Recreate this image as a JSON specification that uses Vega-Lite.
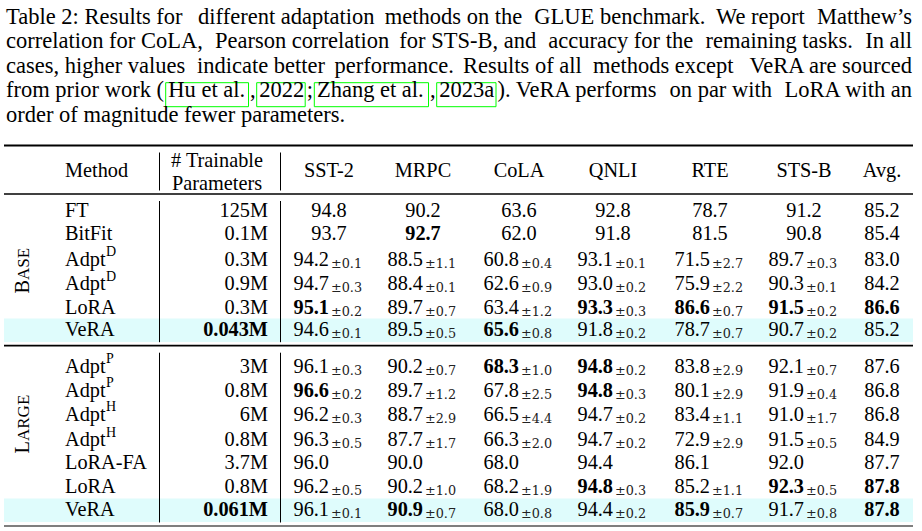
{
  "$schema": "https://vega.github.io/schema/vega-lite/v6.json",
  "width": 922,
  "height": 531,
  "padding": 0,
  "autosize": {"type": "none"},
  "background": "#ffffff",
  "config": {"view": {"stroke": null}, "text": {"font": "Liberation Serif", "color": "#000000"}},
  "datasets": {
    "caption": [
      {"line": 1, "seg": 0, "part": "start", "text": "Table 2: Results for"},
      {"line": 1, "seg": 3, "part": "start", "text": "different adaptation"},
      {"line": 1, "seg": 10, "part": "start", "text": "methods on the"},
      {"line": 1, "seg": 16, "part": "start", "text": "GLUE benchmark."},
      {"line": 1, "seg": 21, "part": "start", "text": "We report"},
      {"line": 1, "seg": 22, "part": "end", "text": "Matthew’s"},
      {"line": 2, "seg": 0, "part": "start", "text": "correlation for CoLA,"},
      {"line": 2, "seg": 4, "part": "start", "text": "Pearson correlation"},
      {"line": 2, "seg": 11, "part": "start", "text": "for STS-B, and"},
      {"line": 2, "seg": 17, "part": "start", "text": "accuracy for the"},
      {"line": 2, "seg": 20, "part": "start", "text": "remaining tasks."},
      {"line": 2, "seg": 22, "part": "end", "text": "In all"},
      {"line": 3, "seg": 0, "part": "start", "text": "cases, higher values"},
      {"line": 3, "seg": 2, "part": "start", "text": "indicate better"},
      {"line": 3, "seg": 9, "part": "start", "text": "performance."},
      {"line": 3, "seg": 14, "part": "start", "text": "Results of all"},
      {"line": 3, "seg": 18, "part": "start", "text": "methods except"},
      {"line": 3, "seg": 22, "part": "end", "text": "VeRA are sourced"},
      {"line": 4, "seg": 0, "part": "start", "text": "from prior work ("},
      {"line": 4, "seg": 1, "next": 5, "part": "start", "text": "Hu et al.", "cite": true},
      {"line": 4, "seg": 5, "part": "start", "text": ","},
      {"line": 4, "seg": 6, "next": 7, "part": "start", "text": "2022", "cite": true},
      {"line": 4, "seg": 7, "part": "start", "text": ";"},
      {"line": 4, "seg": 8, "next": 12, "part": "start", "text": "Zhang et al.", "cite": true},
      {"line": 4, "seg": 12, "part": "start", "text": ","},
      {"line": 4, "seg": 13, "next": 15, "part": "start", "text": "2023a", "cite": true},
      {"line": 4, "seg": 15, "part": "start", "text": "). VeRA performs"},
      {"line": 4, "seg": 19, "part": "start", "text": "on par with"},
      {"line": 4, "seg": 22, "part": "end", "text": "LoRA with an"},
      {"line": 5, "seg": 0, "part": "start", "text": "order of magnitude fewer parameters."}
    ],
    "groups": [
      {"group": "BASE", "first": "B", "rest": "ASE"},
      {"group": "LARGE", "first": "L", "rest": "ARGE"}
    ],
    "hrules": [
      {"kind": "toprule", "r": -0.5},
      {"kind": "midrule", "r": 0.5},
      {"kind": "midrule", "r": 6.5},
      {"kind": "bottomrule", "r": 13.5}
    ],
    "vrules": [
      {"c": 0.5, "r": -0.5, "r2": 0.5},
      {"c": 0.5, "r": 0.5, "r2": 6.5},
      {"c": 0.5, "r": 6.5, "r2": 13.5},
      {"c": 1.5, "r": -0.5, "r2": 0.5},
      {"c": 1.5, "r": 0.5, "r2": 6.5},
      {"c": 1.5, "r": 6.5, "r2": 13.5}
    ],
    "header": [
      {"c": 0, "h": "Method"},
      {"c": 1, "h": "# Trainable\nParameters"},
      {"c": 2, "h": "SST-2"},
      {"c": 3, "h": "MRPC"},
      {"c": 4, "h": "CoLA"},
      {"c": 5, "h": "QNLI"},
      {"c": 6, "h": "RTE"},
      {"c": 7, "h": "STS-B"},
      {"c": 8, "h": "Avg."}
    ],
    "methods": [
      {"r": 1, "group": "BASE", "method": "FT", "sup": "", "params": "125M"},
      {"r": 2, "group": "BASE", "method": "BitFit", "sup": "", "params": "0.1M"},
      {"r": 3, "group": "BASE", "method": "Adpt", "sup": "D", "params": "0.3M"},
      {"r": 4, "group": "BASE", "method": "Adpt", "sup": "D", "params": "0.9M"},
      {"r": 5, "group": "BASE", "method": "LoRA", "sup": "", "params": "0.3M"},
      {"r": 6, "group": "BASE", "method": "VeRA", "sup": "", "params": "0.043M", "pbest": true},
      {"r": 7, "group": "LARGE", "method": "Adpt", "sup": "P", "params": "3M"},
      {"r": 8, "group": "LARGE", "method": "Adpt", "sup": "P", "params": "0.8M"},
      {"r": 9, "group": "LARGE", "method": "Adpt", "sup": "H", "params": "6M"},
      {"r": 10, "group": "LARGE", "method": "Adpt", "sup": "H", "params": "0.8M"},
      {"r": 11, "group": "LARGE", "method": "LoRA-FA", "sup": "", "params": "3.7M"},
      {"r": 12, "group": "LARGE", "method": "LoRA", "sup": "", "params": "0.8M"},
      {"r": 13, "group": "LARGE", "method": "VeRA", "sup": "", "params": "0.061M", "pbest": true}
    ],
    "scores": [
      {"r": 1, "c": 2, "v": "94.8", "sd": ""},
      {"r": 1, "c": 3, "v": "90.2", "sd": ""},
      {"r": 1, "c": 4, "v": "63.6", "sd": ""},
      {"r": 1, "c": 5, "v": "92.8", "sd": ""},
      {"r": 1, "c": 6, "v": "78.7", "sd": ""},
      {"r": 1, "c": 7, "v": "91.2", "sd": ""},
      {"r": 1, "c": 8, "v": "85.2", "sd": ""},
      {"r": 2, "c": 2, "v": "93.7", "sd": ""},
      {"r": 2, "c": 3, "v": "92.7", "sd": "", "best": true},
      {"r": 2, "c": 4, "v": "62.0", "sd": ""},
      {"r": 2, "c": 5, "v": "91.8", "sd": ""},
      {"r": 2, "c": 6, "v": "81.5", "sd": ""},
      {"r": 2, "c": 7, "v": "90.8", "sd": ""},
      {"r": 2, "c": 8, "v": "85.4", "sd": ""},
      {"r": 3, "c": 2, "v": "94.2", "sd": "±0.1"},
      {"r": 3, "c": 3, "v": "88.5", "sd": "±1.1"},
      {"r": 3, "c": 4, "v": "60.8", "sd": "±0.4"},
      {"r": 3, "c": 5, "v": "93.1", "sd": "±0.1"},
      {"r": 3, "c": 6, "v": "71.5", "sd": "±2.7"},
      {"r": 3, "c": 7, "v": "89.7", "sd": "±0.3"},
      {"r": 3, "c": 8, "v": "83.0", "sd": ""},
      {"r": 4, "c": 2, "v": "94.7", "sd": "±0.3"},
      {"r": 4, "c": 3, "v": "88.4", "sd": "±0.1"},
      {"r": 4, "c": 4, "v": "62.6", "sd": "±0.9"},
      {"r": 4, "c": 5, "v": "93.0", "sd": "±0.2"},
      {"r": 4, "c": 6, "v": "75.9", "sd": "±2.2"},
      {"r": 4, "c": 7, "v": "90.3", "sd": "±0.1"},
      {"r": 4, "c": 8, "v": "84.2", "sd": ""},
      {"r": 5, "c": 2, "v": "95.1", "sd": "±0.2", "best": true},
      {"r": 5, "c": 3, "v": "89.7", "sd": "±0.7"},
      {"r": 5, "c": 4, "v": "63.4", "sd": "±1.2"},
      {"r": 5, "c": 5, "v": "93.3", "sd": "±0.3", "best": true},
      {"r": 5, "c": 6, "v": "86.6", "sd": "±0.7", "best": true},
      {"r": 5, "c": 7, "v": "91.5", "sd": "±0.2", "best": true},
      {"r": 5, "c": 8, "v": "86.6", "sd": "", "best": true},
      {"r": 6, "c": 2, "v": "94.6", "sd": "±0.1"},
      {"r": 6, "c": 3, "v": "89.5", "sd": "±0.5"},
      {"r": 6, "c": 4, "v": "65.6", "sd": "±0.8", "best": true},
      {"r": 6, "c": 5, "v": "91.8", "sd": "±0.2"},
      {"r": 6, "c": 6, "v": "78.7", "sd": "±0.7"},
      {"r": 6, "c": 7, "v": "90.7", "sd": "±0.2"},
      {"r": 6, "c": 8, "v": "85.2", "sd": ""},
      {"r": 7, "c": 2, "v": "96.1", "sd": "±0.3"},
      {"r": 7, "c": 3, "v": "90.2", "sd": "±0.7"},
      {"r": 7, "c": 4, "v": "68.3", "sd": "±1.0", "best": true},
      {"r": 7, "c": 5, "v": "94.8", "sd": "±0.2", "best": true},
      {"r": 7, "c": 6, "v": "83.8", "sd": "±2.9"},
      {"r": 7, "c": 7, "v": "92.1", "sd": "±0.7"},
      {"r": 7, "c": 8, "v": "87.6", "sd": ""},
      {"r": 8, "c": 2, "v": "96.6", "sd": "±0.2", "best": true},
      {"r": 8, "c": 3, "v": "89.7", "sd": "±1.2"},
      {"r": 8, "c": 4, "v": "67.8", "sd": "±2.5"},
      {"r": 8, "c": 5, "v": "94.8", "sd": "±0.3", "best": true},
      {"r": 8, "c": 6, "v": "80.1", "sd": "±2.9"},
      {"r": 8, "c": 7, "v": "91.9", "sd": "±0.4"},
      {"r": 8, "c": 8, "v": "86.8", "sd": ""},
      {"r": 9, "c": 2, "v": "96.2", "sd": "±0.3"},
      {"r": 9, "c": 3, "v": "88.7", "sd": "±2.9"},
      {"r": 9, "c": 4, "v": "66.5", "sd": "±4.4"},
      {"r": 9, "c": 5, "v": "94.7", "sd": "±0.2"},
      {"r": 9, "c": 6, "v": "83.4", "sd": "±1.1"},
      {"r": 9, "c": 7, "v": "91.0", "sd": "±1.7"},
      {"r": 9, "c": 8, "v": "86.8", "sd": ""},
      {"r": 10, "c": 2, "v": "96.3", "sd": "±0.5"},
      {"r": 10, "c": 3, "v": "87.7", "sd": "±1.7"},
      {"r": 10, "c": 4, "v": "66.3", "sd": "±2.0"},
      {"r": 10, "c": 5, "v": "94.7", "sd": "±0.2"},
      {"r": 10, "c": 6, "v": "72.9", "sd": "±2.9"},
      {"r": 10, "c": 7, "v": "91.5", "sd": "±0.5"},
      {"r": 10, "c": 8, "v": "84.9", "sd": ""},
      {"r": 11, "c": 2, "v": "96.0", "sd": ""},
      {"r": 11, "c": 3, "v": "90.0", "sd": ""},
      {"r": 11, "c": 4, "v": "68.0", "sd": ""},
      {"r": 11, "c": 5, "v": "94.4", "sd": ""},
      {"r": 11, "c": 6, "v": "86.1", "sd": ""},
      {"r": 11, "c": 7, "v": "92.0", "sd": ""},
      {"r": 11, "c": 8, "v": "87.7", "sd": ""},
      {"r": 12, "c": 2, "v": "96.2", "sd": "±0.5"},
      {"r": 12, "c": 3, "v": "90.2", "sd": "±1.0"},
      {"r": 12, "c": 4, "v": "68.2", "sd": "±1.9"},
      {"r": 12, "c": 5, "v": "94.8", "sd": "±0.3", "best": true},
      {"r": 12, "c": 6, "v": "85.2", "sd": "±1.1"},
      {"r": 12, "c": 7, "v": "92.3", "sd": "±0.5", "best": true},
      {"r": 12, "c": 8, "v": "87.8", "sd": "", "best": true},
      {"r": 13, "c": 2, "v": "96.1", "sd": "±0.1"},
      {"r": 13, "c": 3, "v": "90.9", "sd": "±0.7", "best": true},
      {"r": 13, "c": 4, "v": "68.0", "sd": "±0.8"},
      {"r": 13, "c": 5, "v": "94.4", "sd": "±0.2"},
      {"r": 13, "c": 6, "v": "85.9", "sd": "±0.7", "best": true},
      {"r": 13, "c": 7, "v": "91.7", "sd": "±0.8"},
      {"r": 13, "c": 8, "v": "87.8", "sd": "", "best": true}
    ]
  },
  "resolve": {"scale": {"x": "independent", "y": "independent"}},
  "layer": [
    {
      "data": {"name": "caption"},
      "layer": [
        {
          "transform": [{"filter": "datum.cite"}],
          "mark": {"type": "rect", "filled": false, "color": "#00ff00", "strokeWidth": 1, "xOffset": -2.6, "x2Offset": -1.5, "yOffset": -14.3, "y2Offset": 9.7},
          "encoding": {
            "x": {"field": "seg", "type": "quantitative", "axis": null, "scale": {"domain": [0, 1, 2, 3, 4, 5, 6, 7, 8, 9, 10, 11, 12, 13, 14, 15, 16, 17, 18, 19, 20, 21, 22], "range": [6, 168.3, 196.9, 198.1, 215, 250, 259.3, 306.7, 316.9, 334.5, 384.8, 399.3, 430, 439.3, 463, 497.5, 534.3, 548.3, 593, 669.5, 705.5, 716, 912], "zero": false, "nice": false}},
            "x2": {"field": "next"},
            "y": {"field": "line", "type": "quantitative", "axis": null, "scale": {"domain": [1, 5], "range": [23.5, 121.5], "zero": false, "nice": false}},
            "y2": {"field": "line"}
          }
        },
        {
          "mark": {"type": "text", "baseline": "alphabetic", "fontSize": 22.5, "align": {"expr": "datum.part == 'end' ? 'right' : 'left'"}},
          "encoding": {
            "x": {"field": "seg", "type": "quantitative", "axis": null, "scale": {"domain": [0, 1, 2, 3, 4, 5, 6, 7, 8, 9, 10, 11, 12, 13, 14, 15, 16, 17, 18, 19, 20, 21, 22], "range": [6, 168.3, 196.9, 198.1, 215, 250, 259.3, 306.7, 316.9, 334.5, 384.8, 399.3, 430, 439.3, 463, 497.5, 534.3, 548.3, 593, 669.5, 705.5, 716, 912], "zero": false, "nice": false}},
            "y": {"field": "line", "type": "quantitative", "axis": null, "scale": {"domain": [1, 5], "range": [23.5, 121.5], "zero": false, "nice": false}},
            "text": {"field": "text"}
          }
        }
      ]
    },
    {
      "data": {"name": "groups"},
      "layer": [
        {
          "mark": {"type": "text", "angle": 270, "align": "right", "baseline": "alphabetic", "fontSize": 20.3},
          "encoding": {
            "x": {"datum": -1, "type": "quantitative", "axis": null, "scale": {"domain": [-1.5, -1, 0, 0.5, 1, 1.5, 2, 3, 4, 5, 6, 7, 8, 8.5], "range": [4, 29.3, 65, 159.5, 268, 280.5, 329, 423, 519, 613, 710, 804, 882, 913], "zero": false, "nice": false}},
            "y": {"field": "group", "type": "nominal", "axis": null, "scale": {"type": "point", "domain": ["BASE", "LARGE"], "range": [280, 441], "padding": 0}},
            "text": {"field": "first"}
          }
        },
        {
          "mark": {"type": "text", "angle": 270, "align": "left", "baseline": "alphabetic", "fontSize": 17},
          "encoding": {
            "x": {"datum": -1, "type": "quantitative", "axis": null, "scale": {"domain": [-1.5, -1, 0, 0.5, 1, 1.5, 2, 3, 4, 5, 6, 7, 8, 8.5], "range": [4, 29.3, 65, 159.5, 268, 280.5, 329, 423, 519, 613, 710, 804, 882, 913], "zero": false, "nice": false}},
            "y": {"field": "group", "type": "nominal", "axis": null, "scale": {"type": "point", "domain": ["BASE", "LARGE"], "range": [280, 441], "padding": 0}},
            "text": {"field": "rest"}
          }
        }
      ]
    },
    {
      "layer": [
        {
          "data": {"name": "methods"},
          "transform": [{"filter": "datum.method == 'VeRA'"}],
          "mark": {"type": "rect", "color": "#dffcfc", "yOffset": -17.5, "y2Offset": 6},
          "encoding": {
            "x": {"datum": -1.5, "type": "quantitative", "axis": null, "scale": {"domain": [-1.5, -1, 0, 0.5, 1, 1.5, 2, 3, 4, 5, 6, 7, 8, 8.5], "range": [4, 29.3, 65, 159.5, 268, 280.5, 329, 423, 519, 613, 710, 804, 882, 913], "zero": false, "nice": false}},
            "x2": {"datum": 8.5},
            "y": {"field": "r", "type": "quantitative", "axis": null, "scale": {"domain": [-0.5, 0, 0.5, 1, 2, 3, 4, 5, 6, 6.5, 7, 8, 9, 10, 11, 12, 13, 13.5], "range": [145.5, 177, 194, 217.3, 240.3, 265.7, 290, 314, 336, 345.7, 372.7, 396.7, 420.7, 446, 469.3, 493, 516, 526], "zero": false, "nice": false}},
            "y2": {"field": "r"}
          }
        },
        {
          "data": {"name": "hrules"},
          "mark": {"type": "rule", "color": "#000000"},
          "encoding": {
            "x": {"datum": -1.5, "type": "quantitative", "axis": null, "scale": {"domain": [-1.5, -1, 0, 0.5, 1, 1.5, 2, 3, 4, 5, 6, 7, 8, 8.5], "range": [4, 29.3, 65, 159.5, 268, 280.5, 329, 423, 519, 613, 710, 804, 882, 913], "zero": false, "nice": false}},
            "x2": {"datum": 8.5},
            "y": {"field": "r", "type": "quantitative", "axis": null, "scale": {"domain": [-0.5, 0, 0.5, 1, 2, 3, 4, 5, 6, 6.5, 7, 8, 9, 10, 11, 12, 13, 13.5], "range": [145.5, 177, 194, 217.3, 240.3, 265.7, 290, 314, 336, 345.7, 372.7, 396.7, 420.7, 446, 469.3, 493, 516, 526], "zero": false, "nice": false}},
            "strokeWidth": {"field": "kind", "type": "ordinal", "legend": null, "scale": {"domain": ["toprule", "midrule", "bottomrule"], "range": [2.2, 1.2, 2.2]}}
          }
        },
        {
          "data": {"name": "vrules"},
          "mark": {"type": "rule", "color": "#000000", "strokeWidth": 1, "yOffset": 7, "y2Offset": -3.5},
          "encoding": {
            "x": {"field": "c", "type": "quantitative", "axis": null, "scale": {"domain": [-1.5, -1, 0, 0.5, 1, 1.5, 2, 3, 4, 5, 6, 7, 8, 8.5], "range": [4, 29.3, 65, 159.5, 268, 280.5, 329, 423, 519, 613, 710, 804, 882, 913], "zero": false, "nice": false}},
            "y": {"field": "r", "type": "quantitative", "axis": null, "scale": {"domain": [-0.5, 0, 0.5, 1, 2, 3, 4, 5, 6, 6.5, 7, 8, 9, 10, 11, 12, 13, 13.5], "range": [145.5, 177, 194, 217.3, 240.3, 265.7, 290, 314, 336, 345.7, 372.7, 396.7, 420.7, 446, 469.3, 493, 516, 526], "zero": false, "nice": false}},
            "y2": {"field": "r2"}
          }
        },
        {
          "data": {"name": "header"},
          "transform": [{"filter": "datum.c != 1"}],
          "mark": {"type": "text", "baseline": "alphabetic", "fontSize": 20.3, "align": {"expr": "datum.c == 0 ? 'left' : 'center'"}},
          "encoding": {
            "x": {"field": "c", "type": "quantitative", "axis": null, "scale": {"domain": [-1.5, -1, 0, 0.5, 1, 1.5, 2, 3, 4, 5, 6, 7, 8, 8.5], "range": [4, 29.3, 65, 159.5, 268, 280.5, 329, 423, 519, 613, 710, 804, 882, 913], "zero": false, "nice": false}},
            "y": {"datum": 0, "type": "quantitative", "axis": null, "scale": {"domain": [-0.5, 0, 0.5, 1, 2, 3, 4, 5, 6, 6.5, 7, 8, 9, 10, 11, 12, 13, 13.5], "range": [145.5, 177, 194, 217.3, 240.3, 265.7, 290, 314, 336, 345.7, 372.7, 396.7, 420.7, 446, 469.3, 493, 516, 526], "zero": false, "nice": false}},
            "text": {"field": "h"}
          }
        },
        {
          "data": {"name": "header"},
          "transform": [{"filter": "datum.c == 1"}],
          "mark": {"type": "text", "baseline": "alphabetic", "fontSize": 20.3, "align": "center", "dx": -51, "dy": -10, "lineHeight": 23, "lineBreak": "\n"},
          "encoding": {
            "x": {"field": "c", "type": "quantitative", "axis": null, "scale": {"domain": [-1.5, -1, 0, 0.5, 1, 1.5, 2, 3, 4, 5, 6, 7, 8, 8.5], "range": [4, 29.3, 65, 159.5, 268, 280.5, 329, 423, 519, 613, 710, 804, 882, 913], "zero": false, "nice": false}},
            "y": {"datum": 0, "type": "quantitative", "axis": null, "scale": {"domain": [-0.5, 0, 0.5, 1, 2, 3, 4, 5, 6, 6.5, 7, 8, 9, 10, 11, 12, 13, 13.5], "range": [145.5, 177, 194, 217.3, 240.3, 265.7, 290, 314, 336, 345.7, 372.7, 396.7, 420.7, 446, 469.3, 493, 516, 526], "zero": false, "nice": false}},
            "text": {"field": "h"}
          }
        },
        {
          "data": {"name": "methods"},
          "mark": {"type": "text", "baseline": "alphabetic", "fontSize": 20.3, "align": "left"},
          "encoding": {
            "x": {"datum": 0, "type": "quantitative", "axis": null, "scale": {"domain": [-1.5, -1, 0, 0.5, 1, 1.5, 2, 3, 4, 5, 6, 7, 8, 8.5], "range": [4, 29.3, 65, 159.5, 268, 280.5, 329, 423, 519, 613, 710, 804, 882, 913], "zero": false, "nice": false}},
            "y": {"field": "r", "type": "quantitative", "axis": null, "scale": {"domain": [-0.5, 0, 0.5, 1, 2, 3, 4, 5, 6, 6.5, 7, 8, 9, 10, 11, 12, 13, 13.5], "range": [145.5, 177, 194, 217.3, 240.3, 265.7, 290, 314, 336, 345.7, 372.7, 396.7, 420.7, 446, 469.3, 493, 516, 526], "zero": false, "nice": false}},
            "text": {"field": "method"}
          }
        },
        {
          "data": {"name": "methods"},
          "transform": [{"filter": "datum.sup != ''"}],
          "mark": {"type": "text", "baseline": "alphabetic", "fontSize": 14, "align": "left", "dx": 41, "dy": -9.5},
          "encoding": {
            "x": {"datum": 0, "type": "quantitative", "axis": null, "scale": {"domain": [-1.5, -1, 0, 0.5, 1, 1.5, 2, 3, 4, 5, 6, 7, 8, 8.5], "range": [4, 29.3, 65, 159.5, 268, 280.5, 329, 423, 519, 613, 710, 804, 882, 913], "zero": false, "nice": false}},
            "y": {"field": "r", "type": "quantitative", "axis": null, "scale": {"domain": [-0.5, 0, 0.5, 1, 2, 3, 4, 5, 6, 6.5, 7, 8, 9, 10, 11, 12, 13, 13.5], "range": [145.5, 177, 194, 217.3, 240.3, 265.7, 290, 314, 336, 345.7, 372.7, 396.7, 420.7, 446, 469.3, 493, 516, 526], "zero": false, "nice": false}},
            "text": {"field": "sup"}
          }
        },
        {
          "data": {"name": "methods"},
          "mark": {"type": "text", "baseline": "alphabetic", "fontSize": 20.3, "align": "right", "fontWeight": {"expr": "datum.pbest ? 'bold' : 'normal'"}},
          "encoding": {
            "x": {"datum": 1, "type": "quantitative", "axis": null, "scale": {"domain": [-1.5, -1, 0, 0.5, 1, 1.5, 2, 3, 4, 5, 6, 7, 8, 8.5], "range": [4, 29.3, 65, 159.5, 268, 280.5, 329, 423, 519, 613, 710, 804, 882, 913], "zero": false, "nice": false}},
            "y": {"field": "r", "type": "quantitative", "axis": null, "scale": {"domain": [-0.5, 0, 0.5, 1, 2, 3, 4, 5, 6, 6.5, 7, 8, 9, 10, 11, 12, 13, 13.5], "range": [145.5, 177, 194, 217.3, 240.3, 265.7, 290, 314, 336, 345.7, 372.7, 396.7, 420.7, 446, 469.3, 493, 516, 526], "zero": false, "nice": false}},
            "text": {"field": "params"}
          }
        },
        {
          "data": {"name": "scores"},
          "mark": {"type": "text", "baseline": "alphabetic", "fontSize": 20.3, "align": {"expr": "datum.c == 8 || datum.r <= 2 ? 'center' : 'right'"}, "fontWeight": {"expr": "datum.best ? 'bold' : 'normal'"}},
          "encoding": {
            "x": {"field": "c", "type": "quantitative", "axis": null, "scale": {"domain": [-1.5, -1, 0, 0.5, 1, 1.5, 2, 3, 4, 5, 6, 7, 8, 8.5], "range": [4, 29.3, 65, 159.5, 268, 280.5, 329, 423, 519, 613, 710, 804, 882, 913], "zero": false, "nice": false}},
            "y": {"field": "r", "type": "quantitative", "axis": null, "scale": {"domain": [-0.5, 0, 0.5, 1, 2, 3, 4, 5, 6, 6.5, 7, 8, 9, 10, 11, 12, 13, 13.5], "range": [145.5, 177, 194, 217.3, 240.3, 265.7, 290, 314, 336, 345.7, 372.7, 396.7, 420.7, 446, 469.3, 493, 516, 526], "zero": false, "nice": false}},
            "text": {"field": "v"}
          }
        },
        {
          "data": {"name": "scores"},
          "transform": [{"filter": "datum.sd != ''"}],
          "mark": {"type": "text", "baseline": "alphabetic", "font": "DejaVu Serif", "fontSize": 12.8, "color": "#222222", "align": "left", "dx": 2, "dy": 2.3},
          "encoding": {
            "x": {"field": "c", "type": "quantitative", "axis": null, "scale": {"domain": [-1.5, -1, 0, 0.5, 1, 1.5, 2, 3, 4, 5, 6, 7, 8, 8.5], "range": [4, 29.3, 65, 159.5, 268, 280.5, 329, 423, 519, 613, 710, 804, 882, 913], "zero": false, "nice": false}},
            "y": {"field": "r", "type": "quantitative", "axis": null, "scale": {"domain": [-0.5, 0, 0.5, 1, 2, 3, 4, 5, 6, 6.5, 7, 8, 9, 10, 11, 12, 13, 13.5], "range": [145.5, 177, 194, 217.3, 240.3, 265.7, 290, 314, 336, 345.7, 372.7, 396.7, 420.7, 446, 469.3, 493, 516, 526], "zero": false, "nice": false}},
            "text": {"field": "sd"}
          }
        }
      ]
    }
  ]
}
